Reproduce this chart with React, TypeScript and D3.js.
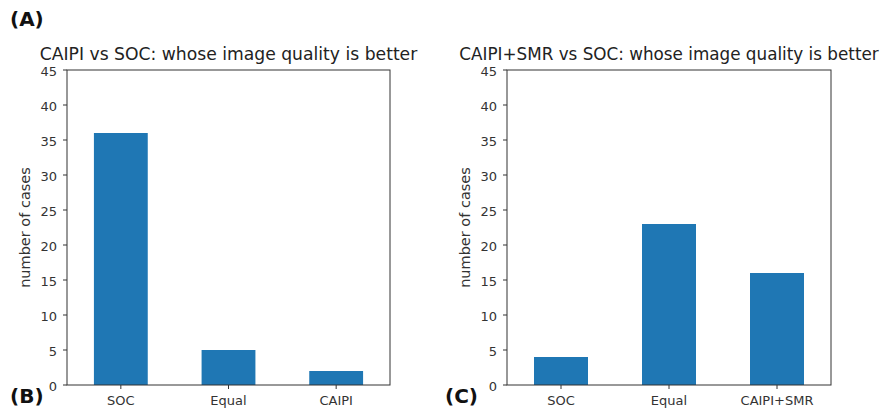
import React from "react";
import * as d3 from "d3";

const leftCategories = ["SOC", "Equal", "CAIPI"];
const leftValues = [36, 5, 2];
const rightCategories = ["SOC", "Equal", "CAIPI+SMR"];
const rightValues = [4, 23, 16];
const yTicks = [0, 5, 10, 15, 20, 25, 30, 35, 40, 45];
const leftTitle = "CAIPI vs SOC: whose image quality is better";
const rightTitle = "CAIPI+SMR vs SOC: whose image quality is better";
const yLabel = "number of cases";

const W = 887;
const H = 411;
const FONT = "DejaVu Sans, sans-serif";
const BAR = "#1f77b4";
const INK = "#333";

type PanelProps = {
  x0: number;
  x1: number;
  cats: string[];
  vals: number[];
  title: string;
  titleSize: number;
};

function Panel({ x0, x1, cats, vals, title, titleSize }: PanelProps) {
  const top = 70;
  const bottom = 385;
  const x = d3.scaleBand<string>().domain(cats).range([x0, x1]).paddingInner(0.5).paddingOuter(0.25);
  const y = d3.scaleLinear().domain([0, 45]).range([bottom, top]);
  const cx = (x0 + x1) / 2;
  return (
    <g>
      {cats.map((c, i) => (
        <rect key={c} x={x(c)} y={y(vals[i])} width={x.bandwidth()} height={y(0) - y(vals[i])} fill={BAR} />
      ))}
      <rect x={x0} y={top} width={x1 - x0} height={bottom - top} fill="none" stroke={INK} strokeWidth={1} />
      {yTicks.map((t) => (
        <g key={t}>
          <line x1={x0 - 4} x2={x0} y1={y(t)} y2={y(t)} stroke={INK} strokeWidth={1} />
          <text x={x0 - 10} y={y(t) + 1} textAnchor="end" dominantBaseline="central" fontSize={13} fill={INK} fontFamily={FONT}>
            {t}
          </text>
        </g>
      ))}
      {cats.map((c) => {
        const m = (x(c) as number) + x.bandwidth() / 2;
        return (
          <g key={c}>
            <line x1={m} x2={m} y1={bottom} y2={bottom + 4} stroke={INK} strokeWidth={1} />
            <text x={m} y={bottom + 20} textAnchor="middle" fontSize={13} fill={INK} fontFamily={FONT}>
              {c}
            </text>
          </g>
        );
      })}
      <text x={cx} y={60} textAnchor="middle" fontSize={titleSize} fill="#222" fontFamily={FONT}>
        {title}
      </text>
      <text
        transform={`translate(${x0 - 37},${(top + bottom) / 2}) rotate(-90)`}
        textAnchor="middle"
        fontSize={14.5}
        fill={INK}
        fontFamily={FONT}
      >
        {yLabel}
      </text>
    </g>
  );
}

export default function App() {
  return (
    <svg width={W} height={H} style={{ position: "absolute", left: 0, top: 0, background: "#fff" }}>
      <rect width={W} height={H} fill="#fff" />
      <Panel x0={67} x1={390} cats={leftCategories} vals={leftValues} title={leftTitle} titleSize={17.2} />
      <Panel x0={507} x1={831} cats={rightCategories} vals={rightValues} title={rightTitle} titleSize={16.8} />
      <text x={10} y={26} fontSize={20} fontWeight="bold" fontFamily={FONT} fill="#111">(A)</text>
      <text x={10} y={403} fontSize={20} fontWeight="bold" fontFamily={FONT} fill="#111">(B)</text>
      <text x={445} y={403} fontSize={20} fontWeight="bold" fontFamily={FONT} fill="#111">(C)</text>
    </svg>
  );
}
